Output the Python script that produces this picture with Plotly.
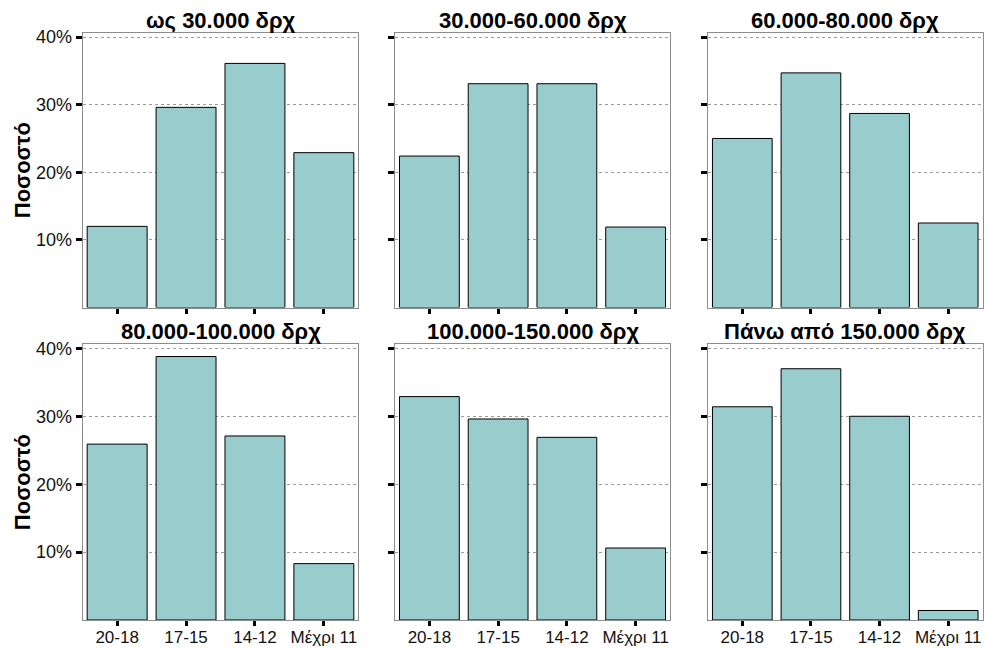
import plotly.graph_objects as go

categories = ["20-18", "17-15", "14-12", "Μέχρι 11"]
panel_titles = ["ως 30.000 δρχ", "30.000-60.000 δρχ", "60.000-80.000 δρχ",
                "80.000-100.000 δρχ", "100.000-150.000 δρχ", "Πάνω από 150.000 δρχ"]
values_1 = [12.0, 29.6, 36.1, 22.9]
values_2 = [22.4, 33.1, 33.1, 11.9]
values_3 = [25.0, 34.7, 28.7, 12.5]
values_4 = [25.9, 38.8, 27.1, 8.3]
values_5 = [32.9, 29.6, 26.9, 10.6]
values_6 = [31.4, 37.0, 30.0, 1.4]
series = [values_1, values_2, values_3, values_4, values_5, values_6]
y_tick_values = [10, 20, 30, 40]
y_tick_labels = ["10%", "20%", "30%", "40%"]
y_title = "Ποσοστό"

W, H = 986, 648
x_px = [(82.7, 358.3), (395, 670), (708, 982.5)]
y_px = [(33, 307.5), (344.3, 620)]

fig = go.Figure()
font_family = "Liberation Sans, Arial, sans-serif"

for i, vals in enumerate(series):
    r, c = divmod(i, 3)
    idx = "" if i == 0 else str(i + 1)
    xa, ya = "x" + idx, "y" + idx
    fig.add_trace(go.Bar(
        x=categories, y=vals, xaxis=xa, yaxis=ya,
        marker=dict(color="#99CCCC", line=dict(color="black", width=1)),
        showlegend=False, hoverinfo="x+y",
    ))
    xd = [x_px[c][0] / W, x_px[c][1] / W]
    yd = [1 - y_px[r][1] / H, 1 - y_px[r][0] / H]
    fig.layout["xaxis" + idx] = dict(
        domain=xd, anchor=ya, range=[-0.5, 3.5], type="category",
        showline=True, mirror=True, linecolor="#8c8c8c", linewidth=1,
        ticks="outside", ticklen=5, tickwidth=3, tickcolor="black",
        showticklabels=(r == 1), showgrid=False, zeroline=False,
        automargin=False, ticklabelstandoff=-3,
        tickfont=dict(size=17, color="#111", family=font_family),
    )
    fig.layout["yaxis" + idx] = dict(
        domain=yd, anchor=xa, range=[0, 40.6],
        tickmode="array", tickvals=y_tick_values, ticktext=y_tick_labels,
        showline=True, mirror=True, linecolor="#8c8c8c", linewidth=1,
        ticks="outside", ticklen=6, tickwidth=3, tickcolor="black",
        showticklabels=(c == 0), showgrid=True, gridcolor="#9a9a9a",
        gridwidth=1, griddash="dot", zeroline=False, automargin=False,
        tickfont=dict(size=18, color="#111", family=font_family),
    )
    fig.add_annotation(
        x=(xd[0] + xd[1]) / 2, y=yd[1], xref="paper", yref="paper",
        text="<b>" + panel_titles[i] + "</b>", showarrow=False,
        xanchor="center", yanchor="bottom", yshift=-2,
        font=dict(size=22, color="black", family=font_family),
    )
    if c == 0:
        fig.add_annotation(
            x=22 / W, y=(yd[0] + yd[1]) / 2, xref="paper", yref="paper",
            text="<b>" + y_title + "</b>", showarrow=False, textangle=-90,
            xanchor="center", yanchor="middle",
            font=dict(size=22, color="black", family=font_family),
        )

fig.update_layout(
    width=W, height=H, margin=dict(l=0, r=0, t=0, b=0, autoexpand=False),
    paper_bgcolor="white", plot_bgcolor="white", bargap=0.13,
    font=dict(family=font_family),
)
fig.write_html("out.html", config={"displayModeBar": False},
               post_script="document.body.style.margin='0';document.body.style.overflow='hidden';")
